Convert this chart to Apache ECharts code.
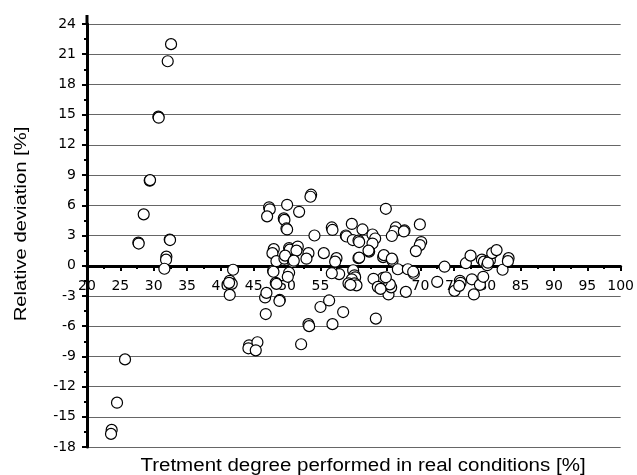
<!DOCTYPE html>
<html>
<head>
<meta charset="utf-8">
<script src="https://cdn.jsdelivr.net/npm/echarts@6/dist/echarts.min.js"></script>
<style>
  html, body { margin: 0; padding: 0; background: #fff; }
  #main { width: 637px; height: 475px; }
</style>
</head>
<body>
<div id="main"></div>
<script>
// treatment degree [%] (x) and relative deviation [%] (y)
let degree = [
  32.6, 32.1, 30.7, 30.75, 29.4, 29.45, 28.5, 27.7, 27.75, 32.4, 32.45, 31.9, 31.85, 31.6,
  25.7, 24.5, 23.7, 23.6,
  41.9, 41.4, 41.7, 41.4, 41.3,
  44.3, 44.2, 45.55, 45.3,
  46.8, 46.7, 46.9, 48.9, 48.85, 48.3, 47.9, 47.95,
  47.3, 47.4, 47.0, 50.0, 51.8, 49.5, 49.6, 49.9, 50.0, 53.6, 53.5, 54.1,
  48.0, 47.8, 50.3, 50.4, 51.6, 51.4, 53.2, 52.9, 55.5, 48.4, 49.6, 49.7, 50.9, 51.0, 50.3, 50.1, 48.4,
  52.1, 53.2, 53.3, 55.0, 56.3, 58.4, 56.8,
  56.7, 56.8, 57.4, 57.2, 57.8, 56.7,
  58.8, 58.9, 59.7, 59.85, 60.7, 60.8, 61.3, 62.8, 63.2, 62.8, 62.3, 62.2, 60.7, 60.8, 64.4, 64.5,
  64.8, 66.3, 66.1, 65.7, 67.6, 67.5, 69.9, 70.1, 69.9, 69.3, 65.8, 65.7, 66.6, 68.1, 69.0, 68.9,
  67.8, 65.2, 65.6, 65.4, 63.9, 64.2, 64.4, 64.8, 62.95, 59.9, 60.1, 60.2, 59.7, 59.2, 60.1, 60.4,
  59.5, 63.6, 64.0, 63.3,
  72.5, 73.6, 75.1, 75.9, 76.0, 75.8, 76.8, 77.5, 77.7, 78.0, 78.9, 79.4, 79.2, 79.5, 80.0, 80.4,
  80.1, 80.75, 81.4, 82.3, 83.2, 83.1
];
let deviation = [
  22.0, 20.3, 14.8, 14.7, 8.45, 8.5, 5.1, 2.3, 2.2, 2.6, 2.55, 0.9, 0.6, -0.3,
  -9.3, -13.6, -16.3, -16.7,
  -0.4, -1.5, -1.8, -2.9, -1.7,
  -7.9, -8.2, -7.6, -8.4,
  -4.8, -3.15, -2.7, -3.4, -3.5, -1.7, -0.5, -0.6,
  5.8, 5.6, 4.9, 6.05, 5.35, 4.7, 4.55, 3.7, 3.6, 7.05, 6.85, 3.0,
  1.65, 1.25, 1.75, 1.6, 1.9, 1.5, 1.25, 0.7, 1.25, 0.45, 0.7, 1.0, 0.35, 0.5, -0.7, -1.1, -1.8,
  -7.8, -5.8, -6.0, -4.1, -3.45, -4.6, -5.8,
  3.8, 3.55, 0.75, 0.4, -0.83, -0.75,
  3.0, 2.9, 4.15, 2.55, 2.5, 2.35, 3.6, 3.1, 2.7, 2.2, 1.4, 1.5, 0.75, 0.8, 0.85, 1.05,
  5.65, 3.8, 3.4, 2.95, 3.5, 3.4, 4.1, 2.35, 2.05, 1.45, 0.5, 0.7, -0.35, -0.35, -0.8, -0.6,
  -2.6, -2.85, -2.15, -1.85, -2.0, -1.6, -1.2, -1.15, -1.3, -0.45, -0.95, -1.15, -1.35, -1.75, -1.75, -1.95,
  -1.9, -2.1, -2.3, -5.25,
  -1.6, -0.1, -2.5, -1.5, -1.7, -2.0, 0.25, 1.0, -1.35, -2.85, -1.9, -1.1, 0.6, 0.4, 0.05, 0.55,
  0.3, 1.25, 1.55, -0.4, 0.75, 0.45
];
let xTitle = "Tretment degree performed in real conditions [%]";
let yTitle = "Relative deviation [%]";

let font = "Liberation Sans, Arial, sans-serif";
let tickFont = "DejaVu Sans, sans-serif";
let points = degree.map(function (d, i) { return [d, deviation[i]]; });

let chart = echarts.init(document.getElementById("main"), null, { renderer: "canvas" });
let option = {
  animation: false,
  backgroundColor: "#fff",
  grid: { left: 87, right: 16, top: 24, bottom: 28 },
  xAxis: {
    type: "value",
    min: 20,
    max: 100,
    interval: 5,
    position: "bottom",
    offset: -181, // x axis crosses the y axis at 0
    axisLine: { onZero: false, lineStyle: { color: "#000", width: 3 } },
    axisTick: { show: true, length: 5, lineStyle: { color: "#000", width: 2 } },
    minorTick: { show: true, splitNumber: 2, length: 3, lineStyle: { color: "#000", width: 2 } },
    axisLabel: { color: "#000", fontSize: 14, fontFamily: tickFont, margin: 13 },
    splitLine: { show: false }
  },
  yAxis: {
    type: "value",
    min: -18,
    max: 24,
    interval: 3,
    axisLine: { show: true, onZero: false, lineStyle: { color: "#000", width: 3 } },
    axisTick: { show: true, length: 5, lineStyle: { color: "#000", width: 2 } },
    minorTick: { show: true, splitNumber: 2, length: 3, lineStyle: { color: "#000", width: 2 } },
    axisLabel: { color: "#000", fontSize: 14, fontFamily: tickFont, margin: 11 },
    splitLine: { show: true, lineStyle: { color: "#666", width: 1.2 } }
  },
  graphic: [
    {
      id: "xTitle",
      type: "text",
      x: 363, y: 466,
      scaleX: 1.14,
      style: { text: xTitle, fontSize: 18, fontFamily: font, fill: "#000", textAlign: "center", textVerticalAlign: "middle" }
    },
    {
      id: "yTitle",
      type: "text",
      x: 21, y: 224,
      rotation: Math.PI / 2,
      scaleX: 1.19,
      style: { text: yTitle, fontSize: 17, fontFamily: font, fill: "#000", textAlign: "center", textVerticalAlign: "middle" }
    }
  ],
  series: [
    {
      type: "scatter",
      data: points,
      symbol: "circle",
      symbolSize: 11,
      itemStyle: { color: "#fff", borderColor: "#000", borderWidth: 1.2, opacity: 1 }
    }
  ]
};
chart.setOption(option);

// the y axis line runs a little past the top tick
let axisTop = chart.convertToPixel({ gridIndex: 0 }, [20, 24]);
chart.setOption({
  graphic: [{
    id: "yAxisStub",
    type: "line",
    shape: { x1: axisTop[0], y1: axisTop[1] - 9, x2: axisTop[0], y2: axisTop[1] },
    style: { stroke: "#000", lineWidth: 3 }
  }]
});
</script>
</body>
</html>
